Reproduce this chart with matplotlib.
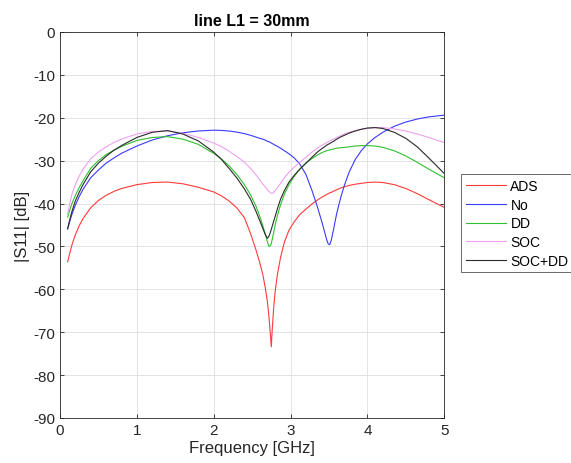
import numpy as np
from matplotlib import pyplot as plt

plt.rcParams['font.family'] = ['Liberation Sans', 'DejaVu Sans']
plt.rcParams['axes.unicode_minus'] = False

# frequency points [GHz]
freq = [0.10, 0.13, 0.16, 0.20, 0.25, 0.30, 0.40, 0.50, 0.60, 0.70, 0.80, 1.00, 1.20,
        1.40, 1.60, 1.80, 2.00, 2.10, 2.20, 2.30, 2.40, 2.48, 2.55, 2.60, 2.64, 2.67,
        2.70, 2.72, 2.74, 2.75, 2.76, 2.78, 2.80, 2.83, 2.87, 2.92, 2.98, 3.05, 3.12,
        3.20, 3.28, 3.35, 3.40, 3.44, 3.47, 3.49, 3.51, 3.53, 3.56, 3.60, 3.65, 3.70,
        3.76, 3.84, 3.92, 4.00, 4.10, 4.20, 4.35, 4.50, 4.65, 4.80, 5.00]

s11_ads = [-53.6, -51.4, -49.4, -47.3, -45.2, -43.5, -41.0, -39.3, -38.1, -37.2, -36.5, -35.6, -35.1,
           -35.0, -35.4, -36.2, -37.3, -38.2, -39.4, -41.0, -43.3, -47.0, -50.8, -53.8, -56.6, -59.5,
           -63.0, -66.5, -71.0, -73.4, -70.0, -64.5, -60.5, -56.5, -52.6, -49.0, -46.2, -44.2, -42.6,
           -41.3, -40.1, -39.2, -38.6, -38.2, -37.9, -37.7, -37.5, -37.4, -37.1, -36.8, -36.4, -36.1,
           -35.8, -35.5, -35.3, -35.1, -35.0, -35.1, -35.6, -36.5, -37.7, -39.1, -40.9]

s11_no = [-45.9, -44.0, -42.3, -40.4, -38.4, -36.7, -34.0, -32.2, -30.6, -29.4, -28.3, -26.6, -25.2,
          -24.2, -23.5, -23.1, -22.9, -22.95, -23.1, -23.35, -23.7, -24.1, -24.5, -24.8, -25.0, -25.2,
          -25.5, -25.6, -25.8, -25.9, -26.0, -26.2, -26.4, -26.7, -27.1, -27.7, -28.4, -29.4, -30.8,
          -33.2, -37.0, -40.8, -43.8, -46.4, -48.4, -49.4, -49.6, -48.6, -46.0, -42.4, -38.8, -35.8,
          -32.8, -29.8, -27.7, -26.1, -24.6, -23.4, -22.0, -21.0, -20.3, -19.8, -19.4]

s11_dd = [-43.2, -41.4, -39.8, -38.1, -36.3, -34.7, -31.8, -30.0, -28.6, -27.6, -26.7, -25.3, -24.6,
          -24.4, -25.0, -26.2, -28.3, -29.6, -31.2, -33.2, -35.6, -38.0, -40.6, -43.0, -45.2, -47.0,
          -49.0, -50.0, -49.8, -49.3, -48.5, -46.8, -45.0, -42.8, -40.3, -37.8, -35.6, -33.6, -32.0,
          -30.6, -29.5, -28.7, -28.2, -27.9, -27.7, -27.6, -27.5, -27.4, -27.3, -27.1, -27.0, -26.9,
          -26.8, -26.6, -26.5, -26.5, -26.6, -26.9, -27.7, -28.9, -30.4, -32.0, -34.0]

s11_soc = [-42.4, -39.8, -37.6, -35.6, -33.6, -32.0, -29.6, -28.0, -26.8, -25.8, -25.0, -23.8, -23.2,
           -23.1, -23.6, -24.6, -25.9, -26.7, -27.8, -29.0, -30.4, -31.8, -33.3, -34.5, -35.5, -36.1,
           -36.8, -37.2, -37.5, -37.6, -37.6, -37.4, -37.0, -36.3, -35.3, -34.0, -32.7, -31.5, -30.4,
           -29.2, -28.0, -27.1, -26.5, -26.1, -25.8, -25.6, -25.4, -25.2, -25.0, -24.6, -24.2, -23.8,
           -23.4, -23.0, -22.7, -22.5, -22.3, -22.3, -22.6, -23.1, -23.8, -24.6, -25.8]

s11_socdd = [-45.9, -43.6, -41.6, -39.4, -37.4, -35.6, -32.6, -30.6, -29.0, -27.6, -26.5, -24.6, -23.4,
             -23.0, -23.8, -25.4, -28.0, -29.7, -31.8, -34.0, -36.6, -39.0, -41.8, -44.0, -45.8, -47.2,
             -48.1, -47.6, -46.6, -46.0, -45.4, -44.2, -43.0, -41.2, -39.0, -37.0, -35.0, -33.4, -32.0,
             -30.6, -29.2, -28.0, -27.3, -26.8, -26.4, -26.2, -26.0, -25.8, -25.5, -25.0, -24.5, -24.1,
             -23.6, -23.1, -22.7, -22.4, -22.3, -22.5, -23.4, -24.8, -26.8, -29.4, -33.0]

labels = ['ADS', 'No', 'DD', 'SOC', 'SOC+DD']
colors = ['#ff3a3a', '#3a3aff', '#2ec02e', '#f0a0f0', '#2a2a2a']

fig = plt.figure(figsize=(5.71, 4.64), dpi=100)
ax = fig.add_axes([0.105, 0.097, 0.673, 0.832])

for ys, lab, c in zip([s11_ads, s11_no, s11_dd, s11_soc, s11_socdd], labels, colors):
    ax.plot(freq, ys, color=c, lw=0.8, label=lab)

ax.set_xlim(0, 5)
ax.set_ylim(-90, 0)
ax.set_xticks(np.arange(0, 6, 1))
ax.set_yticks(np.arange(-90, 1, 10))
ax.grid(True, color='#e3e3e3', lw=0.7)
ax.set_axisbelow(True)
ax.tick_params(direction='in', top=True, right=True, labelsize=11,
               colors='#262626', length=3, width=0.6)
for sp in ax.spines.values():
    sp.set_color('#262626')
    sp.set_linewidth(0.6)

ax.set_title('line L1 = 30mm', fontsize=11.5, fontweight='bold', pad=5)
ax.set_xlabel('Frequency [GHz]', fontsize=12, color='#262626', labelpad=2)
ax.set_ylabel('|S11| [dB]', fontsize=12, color='#262626', labelpad=2)

leg = ax.legend(loc='center left', bbox_to_anchor=(1.044, 0.504), fontsize=10,
                fancybox=False, handlelength=2.9, borderpad=0.35,
                labelspacing=0.33, handletextpad=0.3, borderaxespad=0)
leg.get_frame().set_edgecolor('#262626')
leg.get_frame().set_linewidth(0.6)

fig.savefig('out.png', dpi=100)
